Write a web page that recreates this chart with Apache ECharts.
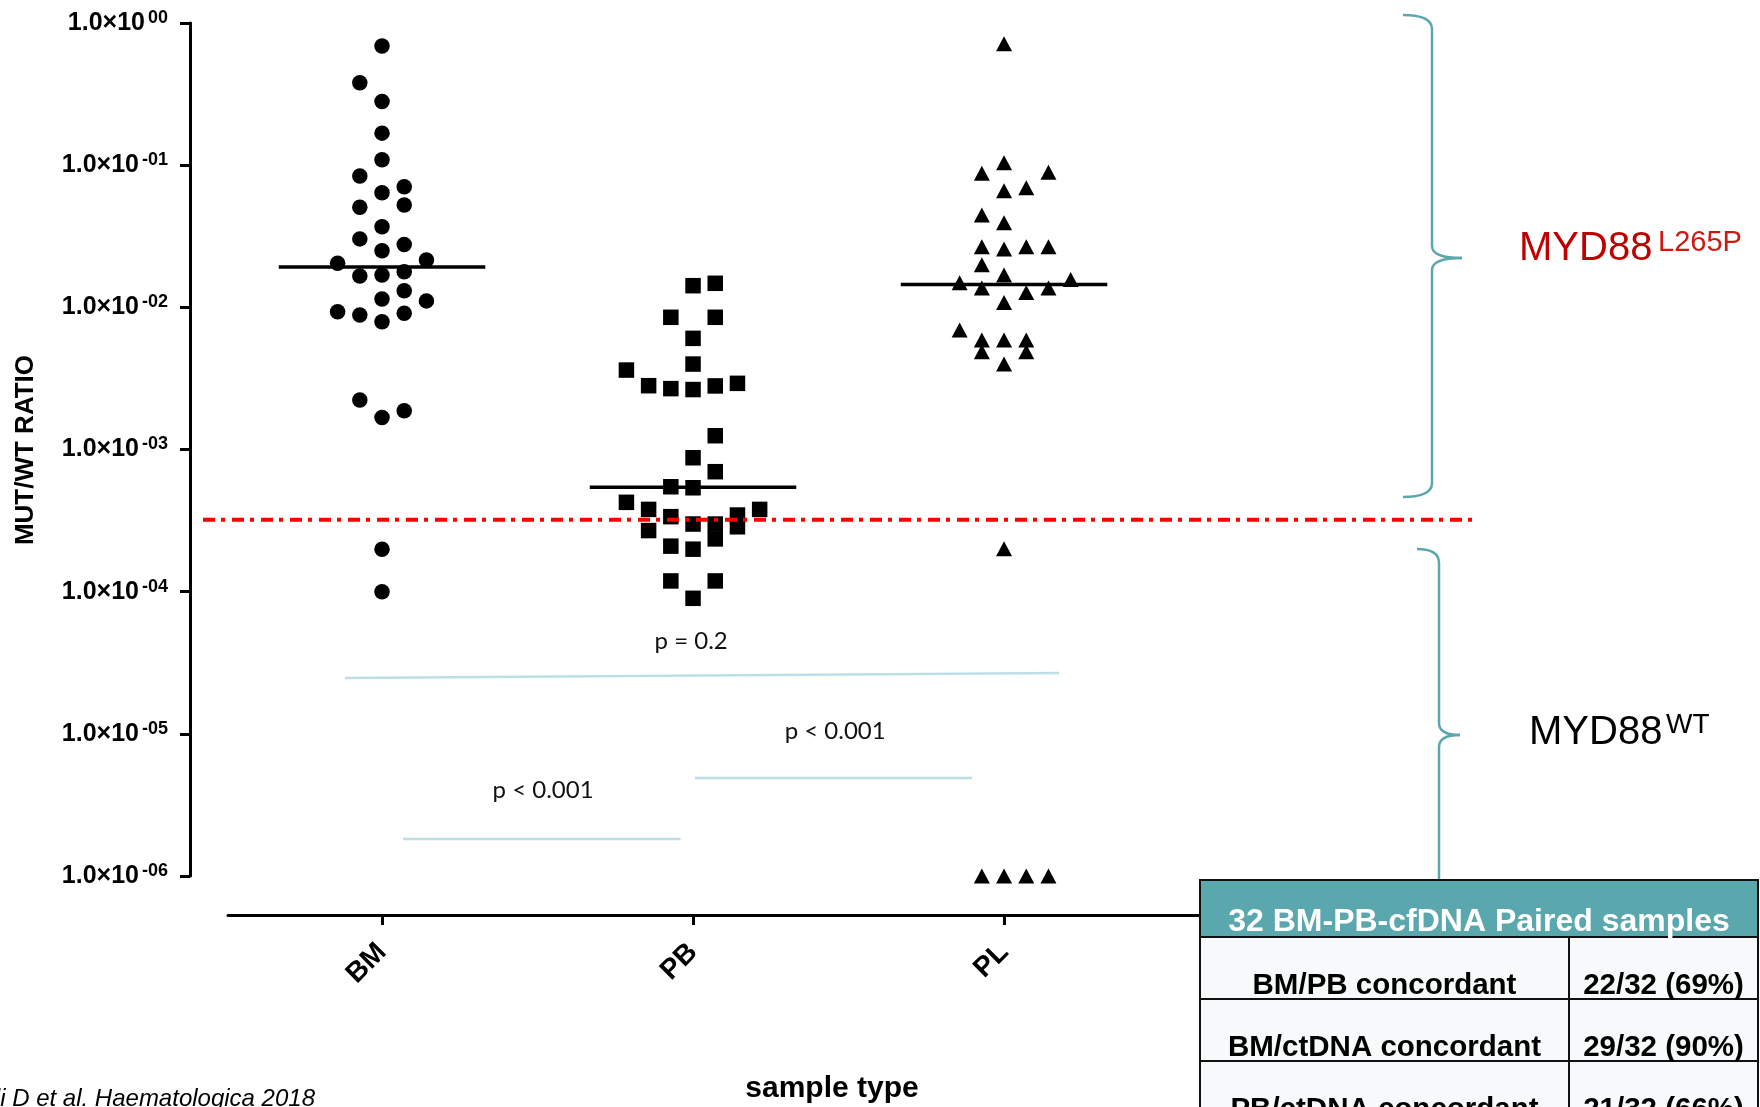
<!DOCTYPE html>
<html>
<head>
<meta charset="utf-8">
<script src="https://cdn.jsdelivr.net/npm/echarts@6/dist/echarts.min.js"></script>
<style>
  html, body { margin: 0; padding: 0; background: #fff; }
  #chart { width: 1760px; height: 1107px; }
</style>
</head>
<body>
<div id="chart"></div>
<script>
// ---- data -------------------------------------------------------------
const categories = ['BM', 'PB', 'PL'];

// MUT/WT ratio per sample, with the beeswarm lane each dot sits in
const bmValues = [0.69, 0.38, 0.28, 0.168, 0.109, 0.084, 0.064, 0.0706, 0.0505, 0.0525,
  0.0369, 0.0303, 0.0277, 0.025, 0.0204, 0.0215, 0.0166, 0.0169, 0.0178, 0.0131,
  0.01145, 0.0111, 0.0093, 0.00883, 0.00792, 0.00908, 0.00223, 0.00168, 0.00187,
  1.99e-4, 1.0e-4];
const bmLanes = [0, -1, 0, 0, 0, -1, 0, 1, -1, 1,
  0, -1, 1, 0, -2, 2, -1, 0, 1, 1,
  0, 2, -2, -1, 0, 1, -1, 0, 1,
  0, 0];

const pbValues = [0.0142, 0.01476, 0.00851, 0.00851, 0.00605, 0.00399, 0.00362, 0.00281,
  0.00268, 0.00264, 0.0028, 0.00292, 0.00125, 8.75e-4, 6.98e-4, 5.47e-4, 5.38e-4,
  4.25e-4, 3.79e-4, 3.79e-4, 3.37e-4, 3.46e-4, 2.99e-4, 2.99e-4, 2.86e-4, 2.69e-4,
  2.35e-4, 2.09e-4, 1.99e-4, 1.19e-4, 1.19e-4, 8.98e-5];
const pbLanes = [0, 1, -1, 1, 0, 0, -3, -2,
  -1, 0, 1, 2, 1, 0, 1, -1, 0,
  -3, -2, 3, -1, 2, 0, 1, 2, -2,
  1, -1, 0, -1, 1, 0];

const plValues = [0.714, 0.104, 0.0877, 0.0891, 0.066, 0.0695, 0.0446, 0.0394, 0.0267,
  0.0257, 0.0267, 0.0267, 0.0199, 0.0169, 0.0149, 0.0157, 0.0137, 0.0127, 0.0137,
  0.0108, 0.00693, 0.00589, 0.00589, 0.00589, 0.00487, 0.00487, 0.00399, 2.0e-4,
  1e-6, 1e-6, 1e-6, 1e-6];
const plLanes = [0, 0, -1, 2, 0, 1, -1, 0, -1,
  0, 1, 2, -1, 0, -2, 3, -1, 1, 2,
  0, -2, -1, 0, 1, -1, 1, 0, 0,
  -1, 0, 1, 2];

const medians = [0.0192, 5.42e-4, 0.0145];
const detectionLimit = 3.2e-4;

// pairwise comparisons: bar ends (category units / ratio) and p-value label
const comparisons = [
  { label: 'p = 0.2',   from: [-0.119, 2.47e-5], to: [2.177, 2.68e-5], at: [0.994, 4.5e-5] },
  { label: 'p < 0.001', from: [1.006, 4.89e-6],  to: [1.897, 4.89e-6], at: [1.457, 1.05e-5] },
  { label: 'p < 0.001', from: [0.0675, 1.82e-6], to: [0.960, 1.82e-6], at: [0.518, 4.03e-6] }
];

const tableHeader = '32 BM-PB-cfDNA Paired samples';
const tableRows = [
  ['BM/PB concordant', '22/32 (69%)'],
  ['BM/ctDNA concordant', '29/32 (90%)'],
  ['PB/ctDNA concordant', '21/32 (66%)']
];

// ---- styling / layout ------------------------------------------------
const FONT = '"Liberation Sans", Arial, Helvetica, sans-serif';
const TEAL = '#5aa8ad';
const LANE_STEP = 0.0714;     // lane spacing in category units
const MEDIAN_HALF = 0.332;    // half length of the median bar

const groups = [
  { values: bmValues, lanes: bmLanes, symbol: 'circle',   size: 15.5 },
  { values: pbValues, lanes: pbLanes, symbol: 'rect',     size: 15.5 },
  { values: plValues, lanes: plLanes, symbol: 'triangle', size: [16, 15] }
];

const series = [];

groups.forEach((g, gi) => {
  series.push({
    name: categories[gi],
    type: 'scatter',
    symbol: g.symbol,
    symbolSize: g.size,
    clip: false,
    itemStyle: { color: '#000', opacity: 1 },
    data: g.values.map((v, i) => [gi + g.lanes[i] * LANE_STEP, v]),
    z: 3
  });
});

medians.forEach((m, gi) => {
  series.push({
    type: 'line',
    symbol: 'none',
    silent: true,
    clip: false,
    lineStyle: { color: '#000', width: 3.5 },
    data: [[gi - MEDIAN_HALF, m], [gi + MEDIAN_HALF, m]],
    z: 4
  });
});

comparisons.forEach(c => {
  series.push({
    type: 'line',
    symbol: 'none',
    silent: true,
    clip: false,
    lineStyle: { color: '#bddfe3', width: 2.5 },
    data: [c.from, c.to],
    z: 2
  });
});

series.push({
  type: 'scatter',
  symbolSize: 1,
  silent: true,
  clip: false,
  itemStyle: { color: 'rgba(0,0,0,0)', opacity: 1 },
  label: {
    show: true,
    position: 'inside',
    formatter: p => p.name,
    fontFamily: 'Lato, "Open Sans", sans-serif',
    fontSize: 24,
    color: '#111'
  },
  data: comparisons.map(c => ({ name: c.label, value: c.at })),
  z: 6
});

// ---- decorations ---------------------------------------------------------
function brace(xv, top, tip, bottom, hookX, tipX) {
  const s = { stroke: TEAL, lineWidth: 2.5, fill: null };
  return {
    type: 'group',
    children: [
      { type: 'bezierCurve', shape: { x1: hookX, y1: top, cpx1: xv, cpy1: top, x2: xv, y2: top + 14 }, style: s },
      { type: 'line', shape: { x1: xv, y1: top + 14, x2: xv, y2: tip - 12 }, style: s },
      { type: 'bezierCurve', shape: { x1: xv, y1: tip - 12, cpx1: xv, cpy1: tip, x2: tipX, y2: tip }, style: s },
      { type: 'bezierCurve', shape: { x1: tipX, y1: tip, cpx1: xv, cpy1: tip, x2: xv, y2: tip + 12 }, style: s },
      { type: 'line', shape: { x1: xv, y1: tip + 12, x2: xv, y2: bottom - 14 }, style: s },
      { type: 'bezierCurve', shape: { x1: xv, y1: bottom - 14, cpx1: xv, cpy1: bottom, x2: hookX, y2: bottom }, style: s }
    ]
  };
}

function buildTable() {
  const x0 = 1200, x1 = 1569, x2 = 1758;
  const headTop = 880, headH = 57, rowH = 62;
  const els = [];
  els.push({ type: 'rect', shape: { x: x0, y: headTop, width: x2 - x0, height: headH },
    style: { fill: TEAL, stroke: '#111', lineWidth: 2 }, z: 10 });
  els.push({ type: 'text', x: (x0 + x2) / 2, y: headTop + headH - 15, z: 11,
    style: { text: tableHeader, fill: '#fff', font: 'bold 32px ' + FONT,
      textAlign: 'center', textVerticalAlign: 'middle' } });
  tableRows.forEach((r, i) => {
    const y = headTop + headH + i * rowH;
    els.push({ type: 'rect', shape: { x: x0, y: y, width: x1 - x0, height: rowH },
      style: { fill: '#f6fafb', stroke: '#111', lineWidth: 2 }, z: 10 });
    els.push({ type: 'rect', shape: { x: x1, y: y, width: x2 - x1, height: rowH },
      style: { fill: '#f6fafb', stroke: '#111', lineWidth: 2 }, z: 10 });
    els.push({ type: 'text', x: (x0 + x1) / 2, y: y + rowH - 13, z: 11,
      style: { text: r[0], fill: '#000', font: 'bold 29.5px ' + FONT,
        textAlign: 'center', textVerticalAlign: 'middle' } });
    els.push({ type: 'text', x: (x1 + x2) / 2, y: y + rowH - 13, z: 11,
      style: { text: r[1], fill: '#000', font: 'bold 29.5px ' + FONT,
        textAlign: 'center', textVerticalAlign: 'middle' } });
  });
  return els;
}

// ---- chart -------------------------------------------------------------
const chart = echarts.init(document.getElementById('chart'), null, { renderer: 'canvas' });
chart.setOption({
  animation: false,
  backgroundColor: '#fff',
  grid: { left: 228, right: 560, top: 23, bottom: 231, outerBoundsMode: 'none' },
  xAxis: {
    type: 'value',
    min: -0.4952,
    max: 2.630,
    offset: 39,
    splitLine: { show: false },
    axisLine: { show: true, onZero: false, lineStyle: { color: '#000', width: 3 } },
    axisTick: { show: true, customValues: [0, 1, 2], length: 10, lineStyle: { color: '#000', width: 3 } },
    axisLabel: {
      customValues: [0, 1, 2],
      rotate: 45,
      margin: 33,
      color: '#000',
      fontFamily: FONT,
      fontWeight: 'bold',
      fontSize: 28,
      formatter: v => categories[Math.round(v)]
    }
  },
  yAxis: {
    type: 'log',
    logBase: 10,
    min: 1e-6,
    max: 1,
    offset: 38,
    splitLine: { show: false },
    minorTick: { show: false },
    axisLine: { show: true, onZero: false, lineStyle: { color: '#000', width: 3 } },
    axisTick: { show: true, length: 10, lineStyle: { color: '#000', width: 3 } },
    axisLabel: {
      margin: 22,
      formatter: v => {
        const e = Math.round(Math.log10(v));
        const sup = e === 0 ? '00' : '-' + String(-e).padStart(2, '0');
        return '{m|1.0×10}{s|' + sup + '}';
      },
      rich: {
        m: { fontFamily: FONT, fontWeight: 'bold', fontSize: 25, color: '#000', lineHeight: 28 },
        s: { fontFamily: FONT, fontWeight: 'bold', fontSize: 18, color: '#000', lineHeight: 18,
             verticalAlign: 'top', padding: [0, 0, 0, 3] }
      }
    }
  },
  series: series
});

// the detection-limit rule spans past the plot area, so it is drawn as an overlay
const limitY = chart.convertToPixel({ yAxisIndex: 0 }, detectionLimit);

const graphic = [
  brace(1432, 15, 258, 497, 1403, 1462),
  brace(1439, 549, 735, 921, 1417, 1460),
  { type: 'line', z: 50, silent: true,
    shape: { x1: 203, y1: limitY, x2: 1477, y2: limitY },
    style: { stroke: '#ff0000', lineWidth: 4, lineDash: [12, 6, 4, 7] } },
  { type: 'text', x: 1519, y: 249, style: { text: 'MYD88', fill: '#c00000',
      font: '40px ' + FONT, textAlign: 'left', textVerticalAlign: 'middle' } },
  { type: 'text', x: 1658, y: 243, style: { text: 'L265P', fill: '#cc1a12',
      font: '29px ' + FONT, textAlign: 'left', textVerticalAlign: 'middle' } },
  { type: 'text', x: 1529, y: 733, style: { text: 'MYD88', fill: '#000',
      font: '40px ' + FONT, textAlign: 'left', textVerticalAlign: 'middle' } },
  { type: 'text', x: 1666, y: 725, style: { text: 'WT', fill: '#000',
      font: '28px ' + FONT, textAlign: 'left', textVerticalAlign: 'middle' } },
  { type: 'text', x: 26, y: 450, rotation: Math.PI / 2, style: { text: 'MUT/WT RATIO',
      fill: '#000', font: 'bold 26px ' + FONT, textAlign: 'center', textVerticalAlign: 'middle' } },
  { type: 'text', x: 832, y: 1089, style: { text: 'sample type', fill: '#000',
      font: 'bold 30px ' + FONT, textAlign: 'center', textVerticalAlign: 'middle' } },
  { type: 'text', x: 315, y: 1099, style: { text: 'Drandi D et al. Haematologica 2018',
      fill: '#000', font: 'italic 24px ' + FONT, textAlign: 'right', textVerticalAlign: 'middle' } }
].concat(buildTable());

chart.setOption({ graphic: graphic });
</script>
</body>
</html>
